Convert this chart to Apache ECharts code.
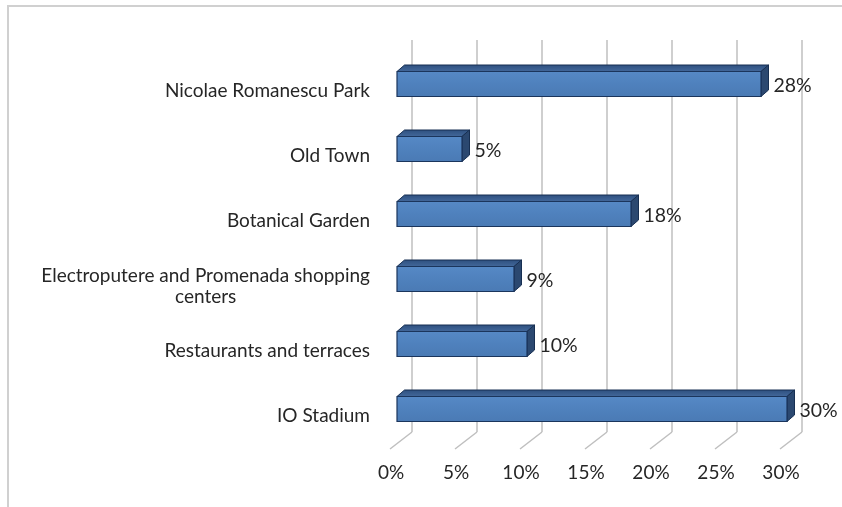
<!DOCTYPE html>
<html>
<head>
<meta charset="utf-8">
<script src="https://cdn.jsdelivr.net/npm/echarts@6/dist/echarts.min.js"></script>
<style>
html,body{margin:0;padding:0;background:#fff;overflow:hidden;}
#frame{position:absolute;left:7px;top:5px;width:900px;height:600px;border:2px solid #d0d0d0;}
#chart{position:absolute;left:0;top:0;width:842px;height:507px;}
</style>
</head>
<body>
<div id="frame"></div>
<div id="chart"></div>
<script>
const categories = ['Nicolae Romanescu Park', 'Old Town', 'Botanical Garden', 'Electroputere and Promenada shopping centers', 'Restaurants and terraces', 'IO Stadium'];
const values = [28, 5, 18, 9, 10, 30];
const tickValues = [0, 5, 10, 15, 20, 25, 30];

const FONT = 'Lato';
const DX = 7.5, DY = 6.5, BAR_H = 25;

function wrap(name) {
  const words = name.split(' ');
  const lines = [];
  let cur = '';
  words.forEach(w => {
    const t = cur ? cur + ' ' + w : w;
    if (t.length > 36 && cur) { lines.push(cur); cur = w; } else cur = t;
  });
  if (cur) lines.push(cur);
  return lines.map(l => '{c|' + l + '}').join('\n');
}

const chart = echarts.init(document.getElementById('chart'), null, {renderer: 'canvas'});
chart.setOption({
  animation: false,
  backgroundColor: 'transparent',
  grid: [
    {left: 397, width: 390, top: 51.5, height: 390},
    {left: 412, width: 390, top: 40, height: 392}
  ],
  xAxis: [
    {
      gridIndex: 0, type: 'value', min: 0, max: 30, interval: 5,
      axisLine: {show: false}, axisTick: {show: false}, splitLine: {show: false},
      axisLabel: {formatter: '{value}%', fontFamily: FONT, fontSize: 19, color: '#262626', margin: 22, padding: [0, 12, 0, 0]}
    },
    {
      gridIndex: 1, type: 'value', min: 0, max: 30, interval: 5,
      axisLine: {show: false}, axisTick: {show: false}, axisLabel: {show: false},
      splitLine: {show: true, lineStyle: {color: '#bfbfbf', width: 1.5}}
    }
  ],
  yAxis: [
    {
      gridIndex: 0, type: 'category', data: categories, inverse: true,
      axisLine: {show: false}, axisTick: {show: false}, splitLine: {show: false},
      axisLabel: {
        margin: 27, fontFamily: FONT, fontSize: 19, color: '#262626', padding: [14, 0, 0, 0],
        formatter: wrap,
        rich: {c: {align: 'center', fontFamily: FONT, fontSize: 19, color: '#262626', lineHeight: 21}}
      }
    },
    {gridIndex: 1, type: 'value', min: 0, max: 1, show: false}
  ],
  series: [
    {
      type: 'custom', xAxisIndex: 1, yAxisIndex: 1, z: 1, silent: true,
      data: tickValues.map(v => [v, 0]),
      renderItem: function (params, api) {
        const p = api.coord([api.value(0), 0]);
        return {
          type: 'line',
          shape: {x1: p[0], y1: p[1], x2: p[0] - 22, y2: p[1] + 17},
          style: {stroke: '#bfbfbf', lineWidth: 1.5}
        };
      }
    },
    {
      type: 'custom', xAxisIndex: 0, yAxisIndex: 0, z: 5,
      data: values.map((v, i) => [v, i]),
      encode: {x: 0, y: 1},
      renderItem: function (params, api) {
        const v = api.value(0);
        const end = api.coord([v, api.value(1)]);
        const start = api.coord([0, api.value(1)]);
        const x0 = start[0], x1 = end[0], yc = end[1];
        const yT = yc - BAR_H / 2, yB = yc + BAR_H / 2;
        return {
          type: 'group',
          children: [
            {
              type: 'polygon',
              shape: {points: [[x0, yT], [x0 + DX, yT - DY], [x1 + DX, yT - DY], [x1, yT]]},
              style: {fill: new echarts.graphic.LinearGradient(0, 0, 0, 1, [{offset: 0, color: '#2d4f7e'}, {offset: 1, color: '#44699c'}]), stroke: '#172f52', lineWidth: 1}
            },
            {
              type: 'polygon',
              shape: {points: [[x1, yT], [x1 + DX, yT - DY], [x1 + DX, yB - DY], [x1, yB]]},
              style: {fill: '#2b4870', stroke: '#172f52', lineWidth: 1}
            },
            {
              type: 'rect',
              shape: {x: x0, y: yT, width: x1 - x0, height: BAR_H},
              style: {fill: new echarts.graphic.LinearGradient(0, 0, 0, 1, [{offset: 0, color: '#5689c6'}, {offset: 0.5, color: '#4f81bd'}, {offset: 1, color: '#4a7ab4'}]), stroke: '#1b355c', lineWidth: 1.2}
            },
            {
              type: 'text',
              style: {text: v + '%', x: x1 + DX + 5, y: yc + 2, verticalAlign: 'middle', align: 'left', fontFamily: FONT, fontSize: 19.5, fill: '#262626'}
            }
          ]
        };
      }
    }
  ]
});
</script>
</body>
</html>
